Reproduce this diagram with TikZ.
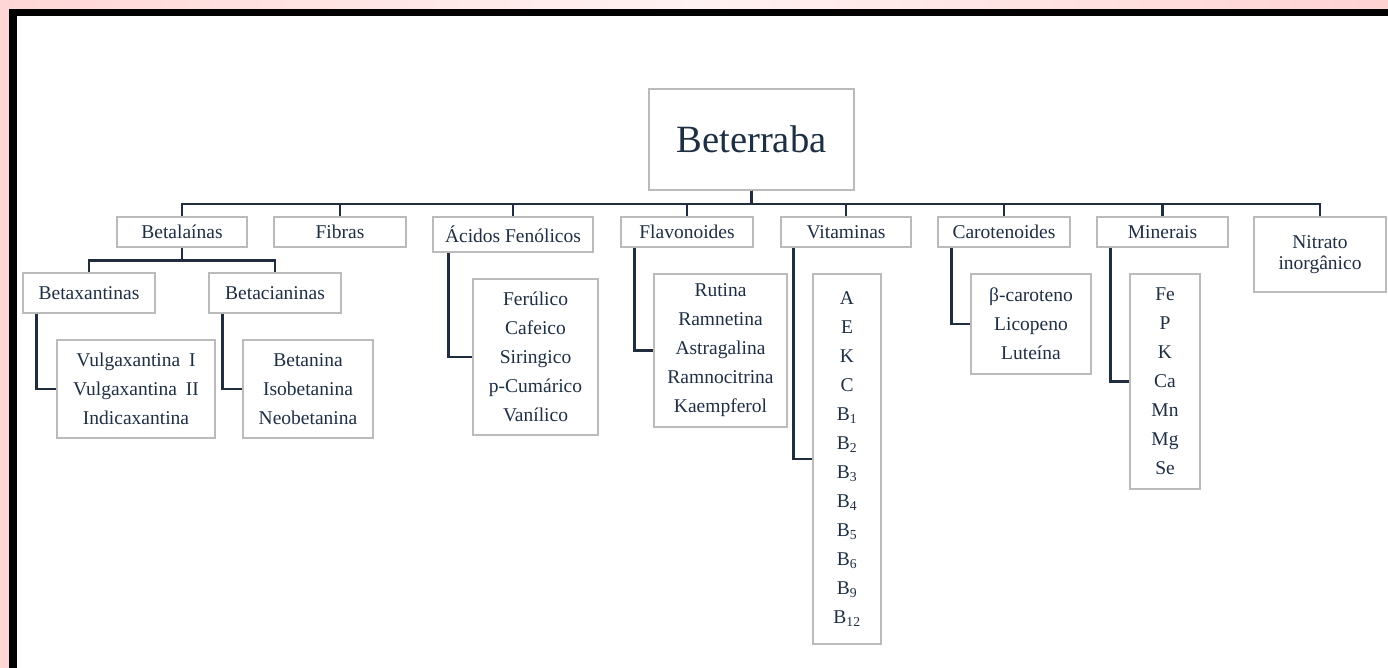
\documentclass[tikz,border=0pt]{standalone}
\usepackage{fontspec}
\setmainfont{Liberation Serif}
\definecolor{boxgray}{HTML}{BBBBBB}
\definecolor{txt}{HTML}{1E2F44}
\definecolor{lnc}{HTML}{1F2D3F}
\definecolor{pinkL}{HTML}{FFD6D6}
\definecolor{pinkM}{HTML}{FFF2F2}
\definecolor{pinkR}{HTML}{FFD2D2}
\begin{document}
\begin{tikzpicture}[x=1pt,y=-1pt,
  box/.style={draw=boxgray, line width=1.2pt, fill=white, text=txt, inner sep=0pt, align=center, font=\fontsize{19.5}{29}\selectfont},
  conn/.style={draw=lnc, line width=2.5pt}]
\useasboundingbox (0,0) rectangle (1388,668);
\clip (0,0) rectangle (1388,668);
\shade[left color=pinkL, right color=pinkR, middle color=pinkM] (0,0) rectangle (1388,668);
\fill[black] (9,9) rectangle (1400,680);
\fill[white] (16.5,16.5) rectangle (1400,680);

% root
\node[box, minimum width=205pt, minimum height=101pt, font=\fontsize{38.6}{40}\selectfont] (root) at (751.5,139.5) {Beterraba};

% level 1
\node[box, minimum width=130pt, minimum height=30pt] (betal) at (182,232) {Betalaínas};
\node[box, minimum width=132pt, minimum height=30pt] (fibras) at (340,232) {Fibras};
\node[box, minimum width=160pt, minimum height=35pt] (acidos) at (513,234.5) {Ácidos Fenólicos};
\node[box, minimum width=132pt, minimum height=30pt] (flav) at (687,232) {Flavonoides};
\node[box, minimum width=130pt, minimum height=30pt] (vit) at (846,232) {Vitaminas};
\node[box, minimum width=132pt, minimum height=30pt] (carot) at (1004,232) {Carotenoides};
\node[box, minimum width=131pt, minimum height=30pt] (miner) at (1162.5,232) {Minerais};
\node[box, minimum width=132pt, minimum height=75pt, font=\fontsize{19.5}{21}\selectfont] (nitrato) at (1320,254.5) {Nitrato\\inorgânico};

% level 2 under Betalainas
\node[box, minimum width=132pt, minimum height=40pt] (betax) at (89,293) {Betaxantinas};
\node[box, minimum width=132pt, minimum height=40pt] (betac) at (275,293) {Betacianinas};

% leaf lists
\node[box, minimum width=158pt, minimum height=98pt] (vulg) at (136,389) {Vulgaxantina\hspace{0.45em}I\\Vulgaxantina\hspace{0.45em}II\\Indicaxantina};
\node[box, minimum width=130pt, minimum height=98pt] (betan) at (308,389) {Betanina\\Isobetanina\\Neobetanina};
\node[box, minimum width=125pt, minimum height=156pt] (acch) at (535.5,357) {Ferúlico\\Cafeico\\Siringico\\p-Cumárico\\Vanílico};
\node[box, minimum width=133pt, minimum height=153pt] (flch) at (720.5,350.5) {Rutina\\Ramnetina\\Astragalina\\Ramnocitrina\\Kaempferol};
\node[box, minimum width=68pt, minimum height=370pt] (vitch) at (847,459) {A\\E\\K\\C\\B\textsubscript{1}\\B\textsubscript{2}\\B\textsubscript{3}\\B\textsubscript{4}\\B\textsubscript{5}\\B\textsubscript{6}\\B\textsubscript{9}\\B\textsubscript{12}};
\node[box, minimum width=120pt, minimum height=100pt] (carch) at (1031,324) {β-caroteno\\Licopeno\\Luteína};
\node[box, minimum width=70pt, minimum height=215pt] (minch) at (1165,381.5) {Fe\\P\\K\\Ca\\Mn\\Mg\\Se};

% connectors: root to level 1
\foreach \n in {betal,fibras,acidos,flav,vit,carot,miner,nitrato}
  \draw[conn] (root.south) -- ++(0,13.5) -| (\n.north);
% Betalainas to subclasses
\draw[conn] (betal.south) -- ++(0,13) -| (betax.north);
\draw[conn] (betal.south) -- ++(0,13) -| (betac.north);
% elbows to lists
\draw[conn] ([xshift=14pt]betax.south west) |- (vulg.west);
\draw[conn] ([xshift=14pt]betac.south west) |- (betan.west);
\draw[conn] ([xshift=16pt]acidos.south west) |- (acch.west);
\draw[conn] ([xshift=14pt]flav.south west) |- (flch.west);
\draw[conn] ([xshift=13pt]vit.south west) |- (vitch.west);
\draw[conn] ([xshift=14pt]carot.south west) |- (carch.west);
\draw[conn] ([xshift=14pt]miner.south west) |- (minch.west);
\end{tikzpicture}
\end{document}
